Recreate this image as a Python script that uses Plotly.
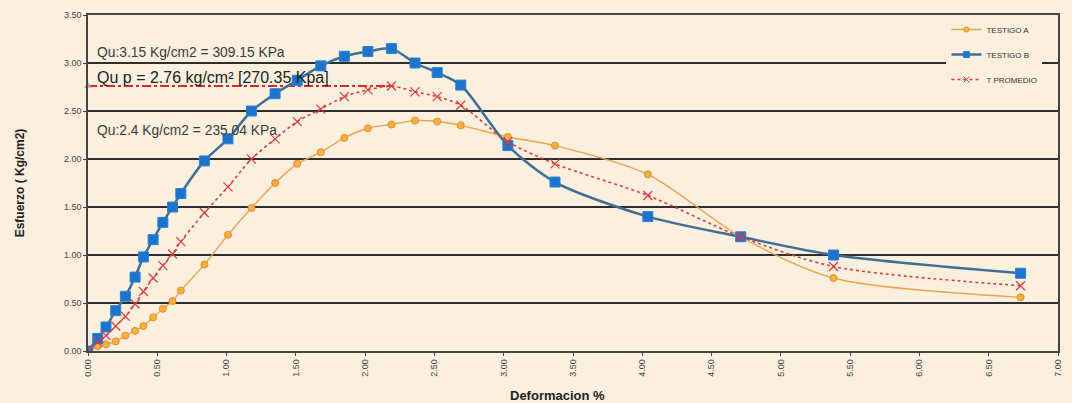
import plotly.graph_objects as go

# Deformation (%) shared by both specimens
deformacion = [0.00, 0.07, 0.13, 0.20, 0.27, 0.34, 0.40, 0.47, 0.54, 0.61, 0.67,
               0.84, 1.01, 1.18, 1.35, 1.51, 1.68, 1.85, 2.02, 2.19, 2.36, 2.52,
               2.69, 3.03, 3.37, 4.04, 4.71, 5.38, 6.73]

# Stress (Kg/cm2) per specimen
testigo_a = [0.00, 0.05, 0.07, 0.10, 0.16, 0.21, 0.26, 0.35, 0.44, 0.52, 0.63,
             0.90, 1.21, 1.49, 1.75, 1.95, 2.07, 2.22, 2.32, 2.36, 2.40, 2.39,
             2.35, 2.23, 2.14, 1.84, 1.19, 0.76, 0.56]
testigo_b = [0.00, 0.13, 0.25, 0.42, 0.57, 0.77, 0.98, 1.16, 1.34, 1.50, 1.64,
             1.98, 2.21, 2.50, 2.68, 2.82, 2.97, 3.07, 3.12, 3.15, 3.00, 2.90,
             2.77, 2.14, 1.76, 1.40, 1.19, 1.00, 0.81]
t_promedio = [0.00, 0.09, 0.16, 0.26, 0.36, 0.49, 0.62, 0.76, 0.89, 1.01, 1.14,
              1.44, 1.71, 2.00, 2.21, 2.39, 2.52, 2.65, 2.72, 2.76, 2.70, 2.65,
              2.56, 2.18, 1.95, 1.62, 1.19, 0.88, 0.68]

# Reference strength level of the averaged curve
qu_promedio = 2.76
qu_line_x = [0.00, 2.19]

y_ticks = [0.0, 0.5, 1.0, 1.5, 2.0, 2.5, 3.0, 3.5]
x_ticks = [0.0, 0.5, 1.0, 1.5, 2.0, 2.5, 3.0, 3.5, 4.0, 4.5, 5.0, 5.5, 6.0, 6.5, 7.0]

BG = "#FBF0DD"
FONT = "Liberation Sans, Arial, sans-serif"

ORANGE_LINE, ORANGE_FILL, ORANGE_EDGE = "#F0A04E", "#F6B23E", "#E6892A"
BLUE_LINE, BLUE_FILL = "#3F6E98", "#1C74CC"
RED = "#E23A3A"

fig = go.Figure()

# dash-dot guide at the averaged peak, with a small pointer on the axis
fig.add_trace(go.Scatter(
    x=qu_line_x, y=[qu_promedio] * len(qu_line_x), mode="lines",
    line=dict(color="#E0242A", width=2, dash="dashdot"),
    showlegend=False, hoverinfo="skip"))
fig.add_trace(go.Scatter(
    x=[qu_line_x[0]], y=[qu_promedio], mode="markers",
    marker=dict(symbol="triangle-up", size=7, color="#A8A29A"),
    cliponaxis=False, showlegend=False, hoverinfo="skip"))

series = [
    ("TESTIGO A", testigo_a,
     dict(color=ORANGE_LINE, width=1.4),
     dict(symbol="circle", size=7, color=ORANGE_FILL, line=dict(color=ORANGE_EDGE, width=1)),
     dict(symbol="circle", size=5, color=ORANGE_FILL, line=dict(color=ORANGE_EDGE, width=1))),
    ("TESTIGO B", testigo_b,
     dict(color=BLUE_LINE, width=2.5),
     dict(symbol="square", size=10, color=BLUE_FILL, line=dict(color="#2A82D8", width=1)),
     dict(symbol="square", size=6, color=BLUE_FILL, line=dict(color="#2A82D8", width=1))),
    ("T PROMEDIO", t_promedio,
     dict(color=RED, width=1.6, dash="dot"),
     dict(symbol="x-thin", size=9, color=RED, line=dict(color=RED, width=1.2)),
     dict(symbol="x-thin", size=6, color=RED, line=dict(color=RED, width=1))),
]

for i, (name, values, line, marker, legend_marker) in enumerate(series):
    fig.add_trace(go.Scatter(
        x=deformacion, y=values, name=name, mode="lines+markers",
        line=dict(**line, shape="spline", smoothing=0.8),
        marker=marker, showlegend=False))
    # compact legend entry
    fig.add_trace(go.Scatter(
        x=[None], y=[None], name=name, mode="lines+markers",
        legendgroup=f"g{i}", line=line, marker=legend_marker,
        hoverinfo="skip"))

small_font = dict(family=FONT, size=13.8, color="#3a3a3a")
fig.add_annotation(x=0.05, y=3.11, text="Qu:3.15 Kg/cm2 = 309.15 KPa",
                   xref="x", yref="y", xanchor="left", yanchor="middle",
                   showarrow=False, font=small_font)
fig.add_annotation(x=0.05, y=2.85, text="Qu p = 2.76 kg/cm² [270.35 Kpa]",
                   xref="x", yref="y", xanchor="left", yanchor="middle",
                   showarrow=False, font=dict(family=FONT, size=16, color="#222222"))
fig.add_annotation(x=0.05, y=2.30, text="Qu:2.4 Kg/cm2 = 235.04 KPa",
                   xref="x", yref="y", xanchor="left", yanchor="middle",
                   showarrow=False, font=small_font)

fig.add_annotation(x=0.484, y=-0.131, xref="paper", yref="paper",
                   text="<b>Deformacion %</b>", showarrow=False,
                   xanchor="center", yanchor="middle",
                   font=dict(family=FONT, size=13, color="#222222"))

fig.update_layout(
    width=1072, height=403,
    margin=dict(l=88, r=9, t=15, b=52),
    paper_bgcolor=BG, plot_bgcolor=BG,
    font=dict(family=FONT, color="#444444"),
    legend=dict(x=0.885, y=1.0, xanchor="left", yanchor="top",
                bgcolor=BG, font=dict(family=FONT, size=8, color="#333333"),
                traceorder="grouped", tracegroupgap=6),
    xaxis=dict(range=[0, 7], tickvals=x_ticks, tickformat=".2f", tickangle=-90,
               ticks="outside", ticklen=3, tickcolor="#444",
               tickfont=dict(family=FONT, size=9, color="#444444"),
               showgrid=False, zeroline=False,
               showline=True, linecolor="#444444", linewidth=1.5, mirror=True),
    yaxis=dict(range=[0, 3.5], tickvals=y_ticks, tickformat=".2f",
               ticks="outside", ticklen=3, tickcolor="#444",
               tickfont=dict(family=FONT, size=9, color="#444444"),
               showgrid=True, gridcolor="#2E2E2E", gridwidth=1.6, zeroline=False,
               showline=True, linecolor="#444444", linewidth=1.5, mirror=True,
               title=dict(text="<b>Esfuerzo ( Kg/cm2)</b>", standoff=37,
                          font=dict(family=FONT, size=12, color="#222222"))),
)

fig.write_html("out.html")
